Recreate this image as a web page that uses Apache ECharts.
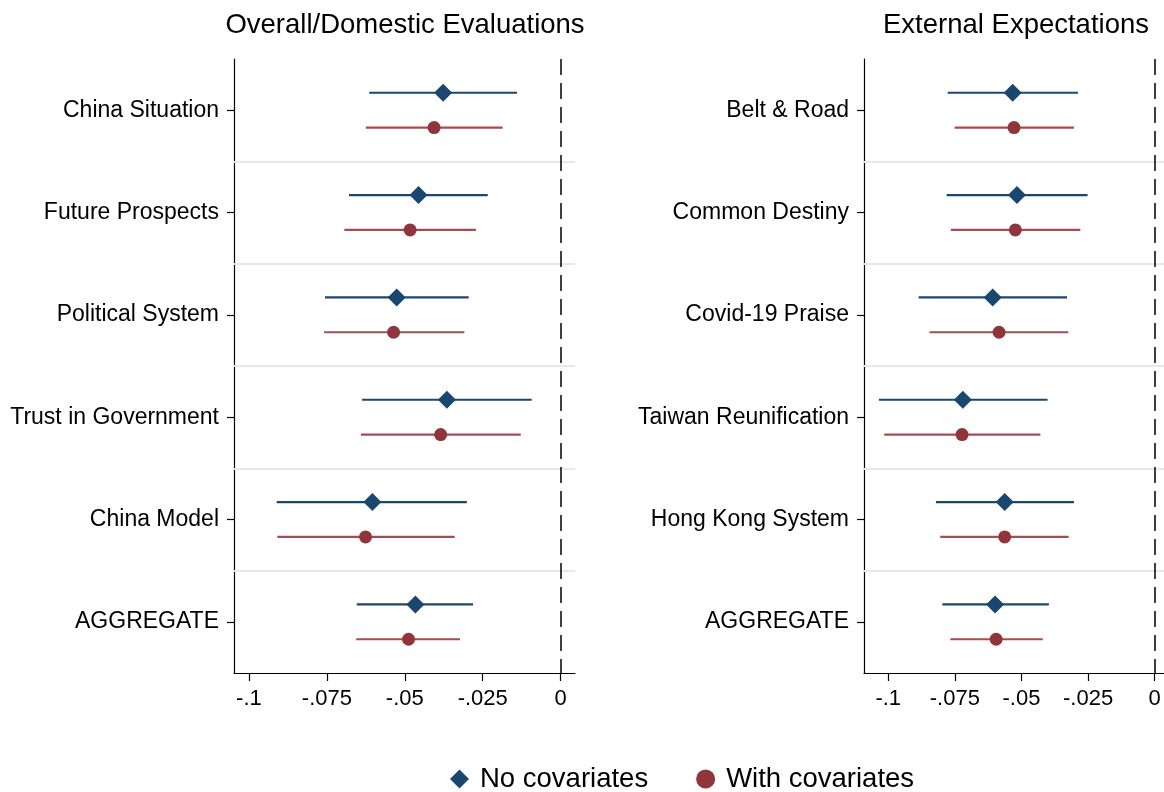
<!DOCTYPE html>
<html>
<head>
<meta charset="utf-8">
<script src="https://cdn.jsdelivr.net/npm/echarts@6/dist/echarts.min.js"></script>
<style>html,body{margin:0;padding:0;background:#fff}#c{width:1164px;height:792px}</style>
</head>
<body>
<div id="c"></div>
<script>
// ---- data ----
const leftTitle = 'Overall/Domestic Evaluations';
const rightTitle = 'External Expectations';
const leftCats = ['China Situation', 'Future Prospects', 'Political System', 'Trust in Government', 'China Model', 'AGGREGATE'];
const rightCats = ['Belt & Road', 'Common Destiny', 'Covid-19 Praise', 'Taiwan Reunification', 'Hong Kong System', 'AGGREGATE'];

const leftNoCovEst = [-0.0377, -0.0456, -0.0526, -0.0365, -0.0604, -0.0466];
const leftNoCovLo  = [-0.0614, -0.0679, -0.0756, -0.0637, -0.0911, -0.0654];
const leftNoCovHi  = [-0.0140, -0.0234, -0.0295, -0.0093, -0.0301, -0.0281];
const leftCovEst   = [-0.0406, -0.0483, -0.0536, -0.0385, -0.0626, -0.0488];
const leftCovLo    = [-0.0625, -0.0694, -0.0759, -0.0641, -0.0909, -0.0656];
const leftCovHi    = [-0.0186, -0.0272, -0.0309, -0.0128, -0.0340, -0.0323];

const rightNoCovEst = [-0.0533, -0.0517, -0.0608, -0.0720, -0.0563, -0.0599];
const rightNoCovLo  = [-0.0777, -0.0781, -0.0886, -0.1035, -0.0821, -0.0797];
const rightNoCovHi  = [-0.0288, -0.0252, -0.0329, -0.0402, -0.0303, -0.0397];
const rightCovEst   = [-0.0528, -0.0523, -0.0584, -0.0723, -0.0563, -0.0595];
const rightCovLo    = [-0.0751, -0.0765, -0.0845, -0.1015, -0.0805, -0.0767];
const rightCovHi    = [-0.0303, -0.0279, -0.0324, -0.0429, -0.0323, -0.0420];

const xTickValues = [-0.1, -0.075, -0.05, -0.025, 0];
const xTickLabels = ['-.1', '-.075', '-.05', '-.025', '0'];
const seriesNames = ['No covariates', 'With covariates'];

// ---- style ----
const FONT = '"Liberation Sans", Arial, sans-serif';
const BLUE = '#1a476f';
const RED = '#90353b';
const RED_LINE = '#a44c52';
const OFF = 0.17;

const chart = echarts.init(document.getElementById('c'), null, {renderer: 'canvas'});

function ciSeries(name, xi, yi, lo, hi, off, color) {
  return {
    name: name, type: 'custom', xAxisIndex: xi, yAxisIndex: yi, z: 3, silent: true,
    data: lo.map((v, i) => [v, hi[i], i + off]),
    renderItem: function (params, api) {
      const a = api.coord([api.value(0), api.value(2)]);
      const b = api.coord([api.value(1), api.value(2)]);
      return {type: 'line', shape: {x1: a[0], y1: a[1], x2: b[0], y2: b[1]},
              style: {stroke: color, lineWidth: 2.2}};
    }
  };
}
function ptSeries(name, xi, yi, est, off, symbol, size, color) {
  return {
    name: name, type: 'scatter', xAxisIndex: xi, yAxisIndex: yi, z: 4,
    symbol: symbol, symbolSize: size, itemStyle: {color: color, opacity: 1},
    data: est.map((v, i) => [v, i + off])
  };
}
function refSeries(xi, yi, n) {
  const seps = [];
  for (let i = 0; i < n - 1; i++) seps.push({yAxis: i + 0.5, lineStyle: {color: '#e8e8e8', width: 2, type: 'solid'}});
  return {
    name: 'ref', type: 'scatter', xAxisIndex: xi, yAxisIndex: yi, z: 1, data: [], silent: true,
    markLine: {
      silent: true, symbol: 'none', animation: false, label: {show: false},
      data: seps.concat([{xAxis: 0, lineStyle: {color: '#000', width: 1.5, type: [16, 8]}}])
    }
  };
}
function xAxis(gi, min, max) {
  return {
    type: 'value', gridIndex: gi, min: min, max: max,
    axisLine: {show: true, onZero: false, lineStyle: {color: '#000', width: 1.2}},
    axisTick: {show: true, length: 8, lineStyle: {color: '#000', width: 1.2}, customValues: xTickValues},
    axisLabel: {show: true, margin: 15, color: '#000', fontFamily: FONT, fontSize: 22,
      customValues: xTickValues,
      formatter: v => { const k = xTickValues.findIndex(t => Math.abs(t - v) < 1e-9); return k >= 0 ? xTickLabels[k] : ''; }},
    splitLine: {show: false}
  };
}
function yCat(gi, cats) {
  return {
    type: 'category', gridIndex: gi, data: cats, inverse: true, boundaryGap: true,
    axisLine: {show: true, onZero: false, lineStyle: {color: '#000', width: 1.2}},
    axisTick: {show: true, alignWithLabel: true, length: 7, lineStyle: {color: '#000', width: 1.2}},
    axisLabel: {margin: 15, color: '#000', fontFamily: FONT, fontSize: 23},
    splitLine: {show: false}
  };
}
function yVal(gi, n) {
  return {type: 'value', gridIndex: gi, min: -0.5, max: n - 0.5, inverse: true, show: false,
          axisLine: {onZero: false}, splitLine: {show: false}};
}

const option = {
  backgroundColor: '#fff',
  animation: false,
  textStyle: {fontFamily: FONT},
  title: [
    {text: leftTitle, left: 400, top: 6, textAlign: 'center',
     textStyle: {fontFamily: FONT, fontSize: 27.5, fontWeight: 'normal', color: '#000'}},
    {text: rightTitle, left: 1011, top: 6, textAlign: 'center',
     textStyle: {fontFamily: FONT, fontSize: 27.5, fontWeight: 'normal', color: '#000'}}
  ],
  legend: {
    left: 445, top: 760, itemWidth: 19, itemHeight: 19, itemGap: 48,
    textStyle: {fontFamily: FONT, fontSize: 27.5, color: '#000', padding: [0, 0, 0, 6]},
    data: [{name: seriesNames[0], icon: 'diamond'}, {name: seriesNames[1], icon: 'circle'}]
  },
  grid: [
    {left: 234, top: 59, width: 341, height: 614, containLabel: false},
    {left: 864, top: 59, width: 300, height: 614, containLabel: false}
  ],
  xAxis: [xAxis(0, -0.1048, 0.0046), xAxis(1, -0.1091, 0.0035)],
  yAxis: [yCat(0, leftCats), yVal(0, leftCats.length), yCat(1, rightCats), yVal(1, rightCats.length)],
  series: [
    refSeries(0, 1, leftCats.length),
    ciSeries('nc-ci-l', 0, 1, leftNoCovLo, leftNoCovHi, -OFF, BLUE),
    ciSeries('c-ci-l', 0, 1, leftCovLo, leftCovHi, OFF, RED_LINE),
    ptSeries(seriesNames[0], 0, 1, leftNoCovEst, -OFF, 'diamond', 18, BLUE),
    ptSeries(seriesNames[1], 0, 1, leftCovEst, OFF, 'circle', 13, RED),
    refSeries(1, 3, rightCats.length),
    ciSeries('nc-ci-r', 1, 3, rightNoCovLo, rightNoCovHi, -OFF, BLUE),
    ciSeries('c-ci-r', 1, 3, rightCovLo, rightCovHi, OFF, RED_LINE),
    ptSeries(seriesNames[0], 1, 3, rightNoCovEst, -OFF, 'diamond', 18, BLUE),
    ptSeries(seriesNames[1], 1, 3, rightCovEst, OFF, 'circle', 13, RED)
  ]
};
chart.setOption(option);
</script>
</body>
</html>
